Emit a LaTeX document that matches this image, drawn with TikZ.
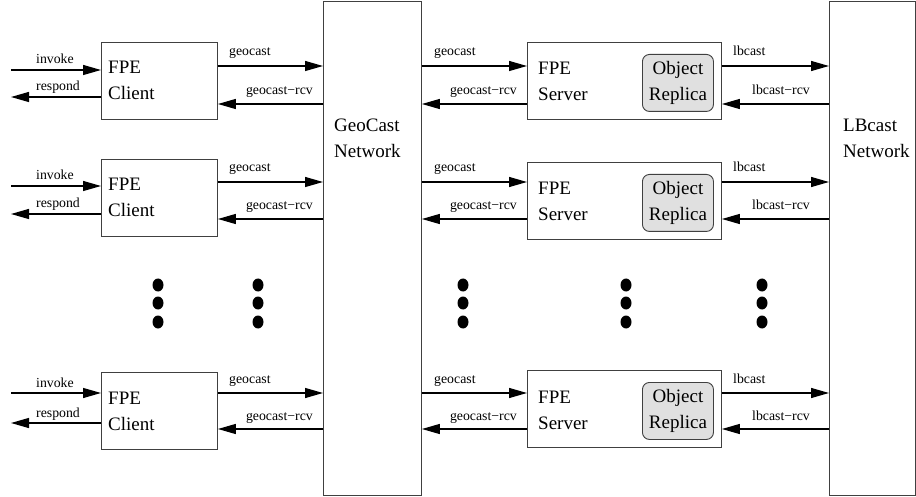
\documentclass[tikz,border=0pt]{standalone}
\usepackage{fontspec}
\setmainfont{Liberation Serif}
\usetikzlibrary{arrows.meta,calc}
\tikzset{
  boxline/.style={draw=black!75, line width=0.9pt},
  plainbox/.style={boxline, rectangle, inner sep=0pt, anchor=north west},
  replbox/.style={boxline, rectangle, rounded corners=7pt, fill=black!12, inner sep=0pt,
     anchor=north west, minimum width=71pt, minimum height=57pt, align=center,
     font=\fontsize{19}{26}\selectfont},
  big/.style={anchor=base west, inner sep=0pt, align=left, font=\fontsize{19}{26}\selectfont},
  lbl/.style={inner sep=0pt, font=\fontsize{13.8}{16}\selectfont},
  arr/.style={draw=black, line width=1.3pt, -{Triangle[length=18pt,width=10pt]}},
  dot/.style={fill=black}
}
\begin{document}
\begin{tikzpicture}[x=1pt,y=-1pt]
\useasboundingbox (0,0) rectangle (916,497);
% networks
\node[plainbox, minimum width=98pt, minimum height=494pt] (geo) at (323,1) {};
\node[plainbox, minimum width=86pt, minimum height=494pt] (lb) at (829,1) {};
\node[big] (geot) at (334,158) {GeoCast\\Network};
\node[big] (lbt) at (843,158) {LBcast\\Network};
\foreach \i/\ct/\st/\ay/\by/\iy/\ry in {1/42/42/66/104/70/97, 2/159/162/182/219/186/214, 3/372/370/393/429/393/423}{
  % client
  \node[plainbox, minimum width=116pt, minimum height=77pt] (c\i) at (101,\ct) {};
  \node[big] (ct\i) at (108,\ct+58) {FPE\\Client};
  % server
  \node[plainbox, minimum width=194pt, minimum height=77pt] (s\i) at (527,\st) {};
  \node[big] (st\i) at (538,\st+59) {FPE\\Server};
  \node[replbox] (r\i) at (642,\st+12) {Object\\Replica};
  % free ends
  \coordinate (in\i) at (11,\iy);
  \coordinate (out\i) at (11,\ry);
  % arrows
  \draw[arr] (in\i) -- (c\i.west |- in\i);
  \draw[arr] (c\i.west |- out\i) -- (out\i);
  \draw[arr] (c\i.east |- 0,\ay) -- (geo.west |- 0,\ay);
  \draw[arr] (geo.west |- 0,\by) -- (c\i.east |- 0,\by);
  \draw[arr] (geo.east |- 0,\ay) -- (s\i.west |- 0,\ay);
  \draw[arr] (s\i.west |- 0,\by) -- (geo.east |- 0,\by);
  \draw[arr] (s\i.east |- 0,\ay) -- (lb.west |- 0,\ay);
  \draw[arr] (lb.west |- 0,\by) -- (s\i.east |- 0,\by);
  % labels
  \node[lbl, anchor=base west] at (36,\iy-6) {invoke};
  \node[lbl, anchor=base west] at (36,\ry-6) {respond};
  \node[lbl, anchor=base west] at (229,\ay-10) {geocast};
  \node[lbl, anchor=base east] at (313,\by-9) {geocast−rcv};
  \node[lbl, anchor=base west] at (434,\ay-10) {geocast};
  \node[lbl, anchor=base east] at (517,\by-9) {geocast−rcv};
  \node[lbl, anchor=base west] at (733,\ay-10) {lbcast};
  \node[lbl, anchor=base east] at (810,\by-9) {lbcast−rcv};
}
% ellipsis dots
\foreach \x in {158,258,463,626,762}{
  \foreach \y in {285,303,322}{
    \fill[dot] (\x,\y) ellipse [x radius=5.5pt, y radius=6.5pt];
  }
}
\end{tikzpicture}
\end{document}
